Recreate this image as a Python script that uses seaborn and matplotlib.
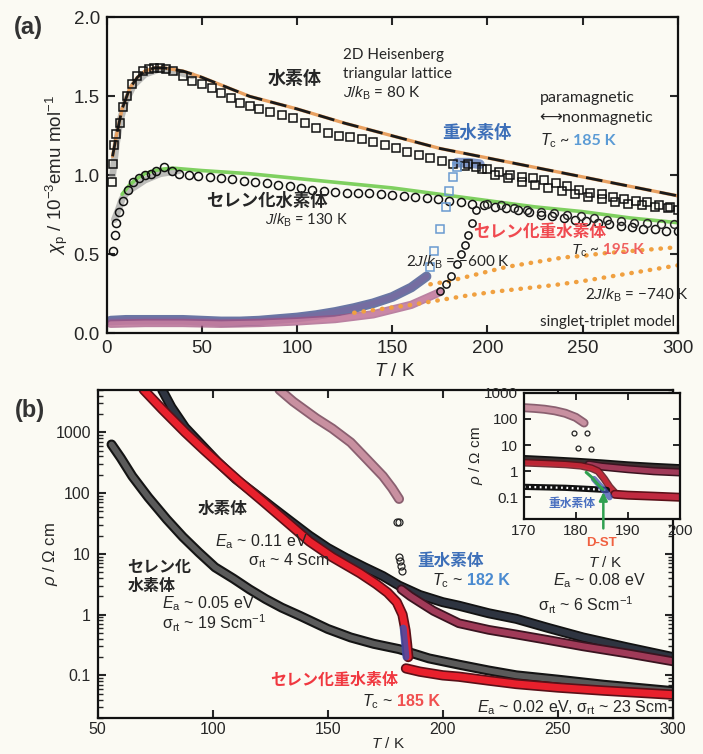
import matplotlib
matplotlib.use("Agg")
import matplotlib.pyplot as plt
from matplotlib.ticker import FixedLocator, FixedFormatter, LogLocator, NullFormatter
import seaborn as sns

# ================= Panel (a): chi_p vs T =================
# 水素体 (open squares)
A_H_T = [2.6, 3.3, 4.0, 5.0, 6.8, 8.6, 10.4, 13, 16, 19, 22, 25, 28, 31, 35, 40, 45, 50, 55, 60,
         65, 70, 75, 80, 86, 92, 98, 104, 110, 116, 122, 128, 134, 140, 146, 152, 158, 164, 170, 176,
         182, 188, 194, 200, 206, 212, 218, 224, 230, 236, 242, 248, 254, 260, 266, 272, 278, 284, 290, 296]
A_H_CHI = [0.96, 1.07, 1.19, 1.26, 1.33, 1.43, 1.50, 1.58, 1.63, 1.66, 1.67, 1.68, 1.68, 1.67, 1.66, 1.63, 1.60, 1.58, 1.55, 1.52,
           1.49, 1.46, 1.44, 1.42, 1.40, 1.38, 1.36, 1.33, 1.30, 1.27, 1.25, 1.24, 1.23, 1.21, 1.19, 1.17, 1.15, 1.13, 1.11, 1.09,
           1.07, 1.06, 1.05, 1.04, 1.02, 1.00, 0.99, 0.98, 0.97, 0.95, 0.93, 0.91, 0.89, 0.88, 0.86, 0.85, 0.84, 0.83, 0.81, 0.80]
# セレン化水素体 (open circles)
A_SE_T = [3.3, 4.1, 5.0, 6.5, 8.6, 11, 13.8, 17, 20, 23, 26, 30, 34, 38, 43, 48, 54, 60, 66, 72,
          78, 84, 90, 96, 102, 108, 114, 120, 126, 132, 138, 144, 150, 156, 162, 168, 174, 180, 186, 192,
          198, 204, 210, 216, 222, 228, 234, 240, 246, 252, 258, 264, 270, 276, 282, 288, 294, 300]
A_SE_CHI = [0.52, 0.62, 0.70, 0.77, 0.84, 0.91, 0.96, 0.98, 1.00, 1.01, 1.03, 1.05, 1.03, 1.01, 1.00, 0.995, 0.99, 0.985, 0.975, 0.965,
            0.955, 0.95, 0.94, 0.93, 0.92, 0.91, 0.90, 0.895, 0.89, 0.89, 0.885, 0.88, 0.875, 0.87, 0.86, 0.855, 0.85, 0.84, 0.83, 0.82,
            0.81, 0.80, 0.79, 0.78, 0.77, 0.75, 0.74, 0.73, 0.72, 0.71, 0.70, 0.69, 0.68, 0.67, 0.66, 0.66, 0.65, 0.65]
# 重水素体: transition squares (blue) and high-T squares
A_D_TR_T = [170, 172, 175, 178, 180, 182, 184]
A_D_TR_CHI = [0.42, 0.52, 0.66, 0.80, 0.90, 0.99, 1.05]
A_D_HI_T = [190, 197, 204, 211, 218, 225, 232, 239, 246, 253, 260, 267, 274, 281, 288, 295, 300]
A_D_HI_CHI = [1.07, 1.04, 1.00, 0.98, 0.96, 0.94, 0.92, 0.90, 0.88, 0.86, 0.85, 0.83, 0.82, 0.81, 0.80, 0.79, 0.78]
A_D_BLOB_T = [184, 190, 196]
A_D_BLOB_CHI = [1.08, 1.08, 1.07]
# セレン化重水素体: transition circles and high-T circles
A_SED_TR_T = [175, 178, 181, 184, 186, 188, 190, 192, 194]
A_SED_TR_CHI = [0.27, 0.31, 0.36, 0.44, 0.50, 0.56, 0.62, 0.70, 0.78]
A_SED_HI_T = [200, 207, 214, 221, 228, 235, 242, 249, 256, 263, 270, 277, 284, 291, 298]
A_SED_HI_CHI = [0.82, 0.81, 0.79, 0.78, 0.77, 0.76, 0.75, 0.74, 0.73, 0.72, 0.71, 0.70, 0.70, 0.69, 0.69]
# low-T bands (deuterated salts, nonmagnetic side)
A_D_LOW_T = [2, 10, 20, 30, 40, 50, 60, 70, 80, 90, 100, 110, 120, 130, 140, 150, 160, 168]
A_D_LOW_CHI = [0.08, 0.085, 0.085, 0.085, 0.085, 0.08, 0.075, 0.075, 0.08, 0.09, 0.10, 0.115, 0.135, 0.16, 0.19, 0.23, 0.29, 0.36]
A_SED_LOW_T = [2, 20, 40, 60, 80, 100, 120, 140, 160, 175]
A_SED_LOW_CHI = [0.06, 0.065, 0.065, 0.06, 0.065, 0.075, 0.09, 0.12, 0.18, 0.26]
# grey streaks at low T
A_H_GRAY_T = [3, 5, 7, 10, 14, 20, 27, 35, 45]
A_H_GRAY_CHI = [1.0, 1.2, 1.35, 1.47, 1.57, 1.64, 1.67, 1.66, 1.63]
A_SE_GRAY_T = [4, 6, 8, 11, 15, 20, 28, 38]
A_SE_GRAY_CHI = [0.72, 0.78, 0.85, 0.90, 0.93, 0.97, 1.01, 1.03]
# model curves
A_FIT_H_T = [3, 5, 8, 12, 16, 20, 25, 30, 40, 50, 75, 100, 125, 150, 175, 200, 225, 250, 275, 300]
A_FIT_H_CHI = [1.12, 1.25, 1.42, 1.55, 1.62, 1.66, 1.68, 1.68, 1.66, 1.62, 1.50, 1.42, 1.33, 1.25, 1.17, 1.11, 1.05, 0.99, 0.93, 0.87]
A_FIT_SE_T = [8, 12, 16, 20, 25, 30, 35, 40, 50, 75, 100, 125, 150, 175, 200, 225, 250, 275, 300]
A_FIT_SE_CHI = [0.88, 0.94, 0.98, 1.01, 1.03, 1.04, 1.045, 1.04, 1.03, 1.01, 0.98, 0.95, 0.92, 0.88, 0.84, 0.80, 0.77, 0.73, 0.70]
A_ST600_T = [170, 180, 190, 200, 210, 220, 230, 240, 250, 260, 270, 280, 290, 300]
A_ST600_CHI = [0.31, 0.33, 0.36, 0.39, 0.42, 0.44, 0.46, 0.48, 0.49, 0.505, 0.515, 0.525, 0.535, 0.545]
A_ST740_T = [130, 145, 160, 175, 190, 205, 220, 235, 250, 265, 280, 300]
A_ST740_CHI = [0.13, 0.155, 0.18, 0.21, 0.24, 0.265, 0.285, 0.305, 0.33, 0.36, 0.39, 0.43]
A_XTICKS = [0, 50, 100, 150, 200, 250, 300]
A_YTICKS = [0.0, 0.5, 1.0, 1.5, 2.0]

# ================= Panel (b): rho vs T (log) =================
B_H_T = [78, 82, 88, 94, 102, 110, 118, 126, 134, 142, 150, 158, 166, 174, 181, 190, 200, 207, 220, 232, 246, 261, 280, 300]
B_H_RHO = [5000, 2600, 1200, 690, 330, 170, 100, 58, 34, 20, 12.5, 8.5, 6.0, 4.3, 3.0, 2.1, 1.6, 1.4, 1.05, 0.85, 0.6, 0.42, 0.29, 0.20]
B_SED_LOW_T = [70, 78, 88, 96, 103, 112, 122, 132, 142, 152, 164, 171, 176, 180, 182.5, 183.8, 184.5, 185]
B_SED_LOW_RHO = [5000, 2400, 1000, 520, 300, 150, 72, 34, 16, 8.8, 4.8, 3.2, 2.3, 1.6, 1.0, 0.55, 0.32, 0.2]
B_SED_HI_T = [184, 190, 200, 207, 220, 232, 250, 270, 300]
B_SED_HI_RHO = [0.13, 0.115, 0.10, 0.095, 0.082, 0.072, 0.063, 0.056, 0.048]
B_D_LOW_T = [129, 135, 145, 152, 160, 167, 174, 178, 181]
B_D_LOW_RHO = [5000, 3200, 1700, 1150, 680, 360, 190, 120, 80]
B_D_CIRC_T = [180.2, 181.1, 180.8, 181.5, 182.0, 182.4]
B_D_CIRC_RHO = [33, 33, 9.0, 7.5, 6.3, 5.3]
B_D_HI_T = [182, 186, 190, 196, 207, 220, 232, 246, 261, 280, 300]
B_D_HI_RHO = [2.6, 2.0, 1.6, 1.15, 0.72, 0.56, 0.47, 0.38, 0.30, 0.23, 0.17]
B_HSE_T = [56, 60, 65, 72, 80, 87, 94, 101, 109, 116, 123, 130, 138, 150, 160, 170, 181, 194, 207, 220, 232, 250, 270, 300]
B_HSE_RHO = [630, 380, 190, 85, 37, 19, 10.5, 6.0, 3.9, 2.6, 1.8, 1.3, 0.95, 0.58, 0.42, 0.33, 0.27, 0.19, 0.15, 0.12, 0.1, 0.085, 0.07, 0.055]
B_BLUE_T = [182.8, 183.2, 183.6, 184.0]
B_BLUE_RHO = [0.6, 0.4, 0.28, 0.2]
B_XTICKS = [50, 100, 150, 200, 250, 300]
B_YTICKS = [0.1, 1, 10, 100, 1000]
B_YLABELS = ["0.1", "1", "10", "100", "1000"]

# ================= Inset =================
I_D_LOW_T = [170, 172, 174, 176, 178, 180, 181.6]
I_D_LOW_RHO = [270, 255, 235, 205, 165, 115, 70]
I_D_CIRC_T = [179.7, 182.2, 180.4, 182.9]
I_D_CIRC_RHO = [29, 29, 7.6, 7.0]
I_H_T = [170, 175, 180, 185, 190, 195, 200]
I_H_RHO = [2.8, 2.5, 2.2, 1.9, 1.6, 1.4, 1.25]
I_D_HI_T = [182.5, 185, 190, 195, 200]
I_D_HI_RHO = [1.8, 1.5, 1.2, 1.0, 0.9]
I_SED_LOW_T = [170, 174, 178, 181, 183, 184.3, 185.5, 186.5, 187.5]
I_SED_LOW_RHO = [2.1, 1.95, 1.8, 1.6, 1.3, 1.0, 0.5, 0.25, 0.15]
I_SED_HI_T = [187.5, 190, 195, 200]
I_SED_HI_RHO = [0.13, 0.12, 0.11, 0.10]
I_HSE_T = [170, 174, 178, 182, 186]
I_HSE_RHO = [0.25, 0.24, 0.23, 0.21, 0.19]
I_BLUE_T = [183.5, 184.5, 185.5, 186.5]
I_BLUE_RHO = [0.5, 0.3, 0.18, 0.1]
I_GREEN_T = [182, 183, 184, 185.2]
I_GREEN_RHO = [0.9, 0.6, 0.35, 0.2]
I_XTICKS = [170, 180, 190, 200]
I_YTICKS = [0.1, 1, 10, 100, 1000]
I_YLABELS = ["0.1", "1", "10", "100", "1000"]

# ================= style =================
sns.set_theme(style="ticks")
BG = "#fbfaf3"
plt.rcParams["font.family"] = ["Liberation Sans", "Noto Sans CJK JP", "DejaVu Sans"]
plt.rcParams["mathtext.fontset"] = "custom"
plt.rcParams["mathtext.rm"] = "Liberation Sans"
plt.rcParams["mathtext.it"] = "Liberation Sans:italic"
plt.rcParams["mathtext.bf"] = "Liberation Sans:bold"
plt.rcParams["axes.facecolor"] = BG
plt.rcParams["figure.facecolor"] = BG
JP = ["Noto Sans CJK JP", "DejaVu Sans"]
LAT = ["Lato", "DejaVu Sans", "Noto Sans CJK JP"]
MINUS = "\u2212"

fig = plt.figure(figsize=(7.03, 7.54), dpi=100)
axa = fig.add_axes([0.152, 0.558, 0.812, 0.419])
axb = fig.add_axes([0.139, 0.048, 0.818, 0.435])
axi = fig.add_axes([0.745, 0.312, 0.222, 0.167])


def line(ax, x, y, **kw):
    sns.lineplot(x=x, y=y, ax=ax, sort=False, estimator=None, legend=False, **kw)


def marks(ax, x, y, marker, ec, ms=6.0, mew=1.1):
    sns.lineplot(x=x, y=y, ax=ax, sort=False, estimator=None, legend=False,
                 linestyle="none", marker=marker, markersize=ms,
                 markerfacecolor="none", markeredgecolor=ec, markeredgewidth=mew)


def band(ax, x, y, outer, inner, wo=6.8, wi=4.4, alpha=1.0):
    line(ax, x, y, color=outer, linewidth=wo, solid_capstyle="round", alpha=alpha)
    line(ax, x, y, color=inner, linewidth=wi, solid_capstyle="round", alpha=alpha)


# ---------------- panel (a) ----------------
band(axa, A_D_LOW_T, A_D_LOW_CHI, "#3a4a8a", "#7a6aa0", wo=7, wi=4, alpha=0.75)
band(axa, A_SED_LOW_T, A_SED_LOW_CHI, "#a05080", "#d08aa8", wo=6, wi=3.5, alpha=0.7)
line(axa, A_H_GRAY_T, A_H_GRAY_CHI, color="#888888", linewidth=5, alpha=0.55, solid_capstyle="round")
line(axa, A_SE_GRAY_T, A_SE_GRAY_CHI, color="#888888", linewidth=5, alpha=0.55, solid_capstyle="round")
line(axa, A_ST600_T, A_ST600_CHI, color="#f0a040", linewidth=3.2, linestyle=(0, (0.1, 2.0)), dash_capstyle="round")
line(axa, A_ST740_T, A_ST740_CHI, color="#f0a040", linewidth=3.2, linestyle=(0, (0.1, 2.0)), dash_capstyle="round")
line(axa, A_FIT_SE_T, A_FIT_SE_CHI, color="#7fd060", linewidth=2.6)
line(axa, A_FIT_H_T, A_FIT_H_CHI, color="#e8a060", linewidth=2.4)
line(axa, A_FIT_H_T, A_FIT_H_CHI, color="#1a1a1a", linewidth=2.0, linestyle=(0, (6, 3)))
line(axa, A_D_BLOB_T, A_D_BLOB_CHI, color="#4a6ab0", linewidth=7, alpha=0.7, solid_capstyle="round")
marks(axa, A_H_T, A_H_CHI, "s", "#111111", ms=6.0)
marks(axa, A_SE_T, A_SE_CHI, "o", "#111111", ms=5.8)
marks(axa, A_D_TR_T, A_D_TR_CHI, "s", "#6a9ad0", ms=5.2)
marks(axa, A_D_HI_T, A_D_HI_CHI, "s", "#111111", ms=6.0)
marks(axa, A_SED_TR_T, A_SED_TR_CHI, "o", "#111111", ms=5.2)
marks(axa, A_SED_HI_T, A_SED_HI_CHI, "o", "#2a2a2a", ms=5.6)

axa.set_xlim(0, 300)
axa.set_ylim(0, 2.0)
axa.xaxis.set_major_locator(FixedLocator(A_XTICKS))
axa.yaxis.set_major_locator(FixedLocator(A_YTICKS))
axa.set_yticklabels([f"{v:.1f}" for v in A_YTICKS])
axa.tick_params(direction="in", length=6, width=1.5, labelsize=13.5, top=True, right=True, pad=5)
for s in axa.spines.values():
    s.set_linewidth(1.6)
    s.set_color("#111111")
axa.set_xlabel(r"$T$ / K", fontsize=13.5)
axa.xaxis.set_label_coords(0.504, -0.095)
axa.set_ylabel(r"$\chi_\mathrm{p}$ / 10$^{-3}$emu mol$^{-1}$", fontsize=13.5)
axa.yaxis.set_label_coords(-0.065, 0.5)

axa.text(98.8, 1.61, "水素体", family=JP, fontsize=13, weight="bold", ha="center", va="center")
axa.text(124, 1.76, "2D Heisenberg", family=LAT, fontsize=11, ha="left", va="center")
axa.text(124, 1.64, "triangular lattice", family=LAT, fontsize=11, ha="left", va="center")
axa.text(124, 1.52, r"$J/k_\mathrm{B}$ = 80 K", family=LAT, fontsize=11, ha="left", va="center")
axa.text(227.5, 1.49, "paramagnetic", family=LAT, fontsize=11.5, ha="left", va="center")
axa.text(227.5, 1.36, "\u27f7nonmagnetic", family=LAT, fontsize=11.5, ha="left", va="center")
axa.text(227.5, 1.22, r"$T_\mathrm{c}$ ~", family=LAT, fontsize=11.5, ha="left", va="center")
axa.text(244.9, 1.22, "185 K", family=LAT, fontsize=11.5, ha="left", va="center", color="#5b9bd5", weight="bold")
axa.text(194.4, 1.27, "重水素体", family=JP, fontsize=12.5, weight="bold", ha="center", va="center", color="#3d6fb8")
axa.text(84, 0.835, "セレン化水素体", family=JP, fontsize=12.5, weight="bold", ha="center", va="center")
axa.text(105, 0.715, r"$J/k_\mathrm{B}$ = 130 K", family=LAT, fontsize=10.5, ha="center", va="center")
axa.text(227.5, 0.64, "セレン化重水素体", family=JP, fontsize=12, weight="bold", ha="center", va="center", color="#f04a50")
axa.text(244, 0.525, r"$T_\mathrm{c}$ ~", family=LAT, fontsize=11, ha="left", va="center")
axa.text(260.6, 0.525, "195 K", family=LAT, fontsize=11, ha="left", va="center", color="#f06060", weight="bold")
axa.text(184.5, 0.45, "2$J/k_\\mathrm{B}$ = " + MINUS + "600 K", family=LAT, fontsize=11, ha="center", va="center")
axa.text(278.5, 0.24, "2$J/k_\\mathrm{B}$ = " + MINUS + "740 K", family=LAT, fontsize=11, ha="center", va="center")
axa.text(263, 0.07, "singlet-triplet model", family=LAT, fontsize=11, ha="center", va="center")

# ---------------- panel (b) ----------------
axb.set_yscale("log")
band(axb, B_HSE_T, B_HSE_RHO, "#141414", "#5a5a5a", wo=7.2, wi=4.2)
band(axb, B_D_LOW_T, B_D_LOW_RHO, "#8a6070", "#c890a0", wo=7.2, wi=4.6)
band(axb, B_H_T, B_H_RHO, "#121212", "#2e3440", wo=7.2, wi=4.6)
band(axb, B_D_HI_T, B_D_HI_RHO, "#3a1420", "#a03a58", wo=7.0, wi=4.4)
band(axb, B_SED_LOW_T, B_SED_LOW_RHO, "#5a1018", "#e8202c", wo=7.4, wi=5.0)
band(axb, B_SED_HI_T, B_SED_HI_RHO, "#5a1018", "#e8202c", wo=7.4, wi=5.0)
line(axb, B_BLUE_T, B_BLUE_RHO, color="#4050b0", linewidth=5, alpha=0.8)
marks(axb, B_D_CIRC_T, B_D_CIRC_RHO, "o", "#222222", ms=5, mew=0.9)

axb.set_xlim(50, 300)
axb.set_ylim(0.02, 5000)
axb.xaxis.set_major_locator(FixedLocator(B_XTICKS))
axb.yaxis.set_major_locator(FixedLocator(B_YTICKS))
axb.yaxis.set_major_formatter(FixedFormatter(B_YLABELS))
axb.yaxis.set_minor_locator(LogLocator(base=10, subs=[2, 3, 4, 5, 6, 7, 8, 9], numticks=20))
axb.yaxis.set_minor_formatter(NullFormatter())
axb.tick_params(which="major", direction="in", length=6, width=1.5, labelsize=11.5, top=True, right=True, pad=5)
axb.tick_params(axis="x", which="major", pad=3)
axb.tick_params(which="minor", direction="in", length=3.5, width=1.0, right=True)
for s in axb.spines.values():
    s.set_linewidth(1.6)
    s.set_color("#111111")
axb.set_xlabel(r"$T$ / K", fontsize=11)
axb.xaxis.set_label_coords(0.504, -0.056)
axb.set_ylabel(r"$\rho$ / Ω cm", fontsize=12)
axb.yaxis.set_label_coords(-0.065, 0.5)

axb.text(104.3, 55, "水素体", family=JP, fontsize=12, weight="bold", ha="center", va="center")
axb.text(100.9, 15.7, r"$E_\mathrm{a}$ ~ 0.11 eV", fontsize=11.5, ha="left", va="center")
axb.text(115.2, 7.7, "σ$_\\mathrm{rt}$ ~ 4 Scm", fontsize=11.5, ha="left", va="center")
axb.text(63, 6.1, "セレン化", family=JP, fontsize=11.5, weight="bold", ha="left", va="center")
axb.text(63, 3.0, "水素体", family=JP, fontsize=11.5, weight="bold", ha="left", va="center")
axb.text(77.8, 1.51, r"$E_\mathrm{a}$ ~ 0.05 eV", fontsize=11.5, ha="left", va="center")
axb.text(77.8, 0.71, "σ$_\\mathrm{rt}$ ~ 19 Scm$^{-1}$", fontsize=11.5, ha="left", va="center")
axb.text(124.8, 0.083, "セレン化重水素体", family=JP, fontsize=11.5, weight="bold", ha="left", va="center", color="#f03840")
axb.text(165, 0.037, r"$T_\mathrm{c}$ ~", fontsize=11.5, ha="left", va="center")
axb.text(180, 0.037, "185 K", fontsize=11.5, ha="left", va="center", color="#f05050", weight="bold")
axb.text(189, 7.7, "重水素体", family=JP, fontsize=12, weight="bold", ha="left", va="center", color="#3d6fb8")
axb.text(195.2, 3.6, r"$T_\mathrm{c}$ ~", fontsize=11.5, ha="left", va="center")
axb.text(210.4, 3.6, "182 K", fontsize=11.5, ha="left", va="center", color="#4a8ad0", weight="bold")
axb.text(247.8, 3.6, r"$E_\mathrm{a}$ ~ 0.08 eV", fontsize=11.5, ha="left", va="center")
axb.text(241.3, 1.4, "σ$_\\mathrm{rt}$ ~ 6 Scm$^{-1}$", fontsize=11.5, ha="left", va="center")
axb.text(214.8, 0.029, r"$E_\mathrm{a}$ ~ 0.02 eV, σ$_\mathrm{rt}$ ~ 23 Scm", fontsize=11.5, ha="left", va="center")

# ---------------- inset ----------------
axi.set_yscale("log")
band(axi, I_D_LOW_T, I_D_LOW_RHO, "#8a6070", "#c890a0", wo=6.5, wi=4.0)
band(axi, I_H_T, I_H_RHO, "#121212", "#3a3030", wo=6.5, wi=4.0)
band(axi, I_D_HI_T, I_D_HI_RHO, "#3a1420", "#a03a58", wo=6.0, wi=3.8)
band(axi, I_SED_LOW_T, I_SED_LOW_RHO, "#5a1018", "#d02a3a", wo=5.5, wi=3.5, alpha=0.85)
band(axi, I_SED_HI_T, I_SED_HI_RHO, "#5a1018", "#c02a40", wo=6.5, wi=4.2)
line(axi, I_HSE_T, I_HSE_RHO, color="#111111", linewidth=4.5)
line(axi, I_HSE_T, I_HSE_RHO, color="white", linewidth=1.6, linestyle=(0, (0.8, 1.6)))
line(axi, I_BLUE_T, I_BLUE_RHO, color="#4050b0", linewidth=4.5, alpha=0.75)
line(axi, I_GREEN_T, I_GREEN_RHO, color="#30a050", linewidth=2.2)
marks(axi, I_D_CIRC_T, I_D_CIRC_RHO, "o", "#222222", ms=3.5, mew=0.9)
axi.annotate("", xy=(185.3, 0.2), xytext=(185.3, 0.005), xycoords="data",
             arrowprops=dict(arrowstyle="-|>", color="#30a050", lw=1.8), annotation_clip=False)

axi.set_xlim(170, 200)
axi.set_ylim(0.015, 1000)
axi.xaxis.set_major_locator(FixedLocator(I_XTICKS))
axi.yaxis.set_major_locator(FixedLocator(I_YTICKS))
axi.yaxis.set_major_formatter(FixedFormatter(I_YLABELS))
axi.yaxis.set_minor_locator(FixedLocator([]))
axi.tick_params(which="major", direction="in", length=5, width=1.4, labelsize=11, top=True, right=True, pad=4)
for s in axi.spines.values():
    s.set_linewidth(1.6)
    s.set_color("#111111")
axi.set_xlabel(r"$T$ / K", fontsize=11)
axi.xaxis.set_label_coords(0.52, -0.29)
axi.set_ylabel(r"$\rho$ / Ω cm", fontsize=11)
axi.yaxis.set_label_coords(-0.25, 0.5)
axi.text(179.3, 0.06, "重水素体", family=JP, fontsize=8.5, weight="bold", ha="center", va="center", color="#4a70c0")
axi.text(185.0, 0.0017, "D-ST", fontsize=9.5, weight="bold", ha="center", va="center", color="#f06040", clip_on=False)

fig.text(0.04, 0.963, "(a)", fontsize=17, weight="bold", ha="center", va="center", color="#333333")
fig.text(0.043, 0.456, "(b)", fontsize=17, weight="bold", ha="center", va="center", color="#333333")

fig.savefig("out.png", dpi=100, facecolor=BG)
